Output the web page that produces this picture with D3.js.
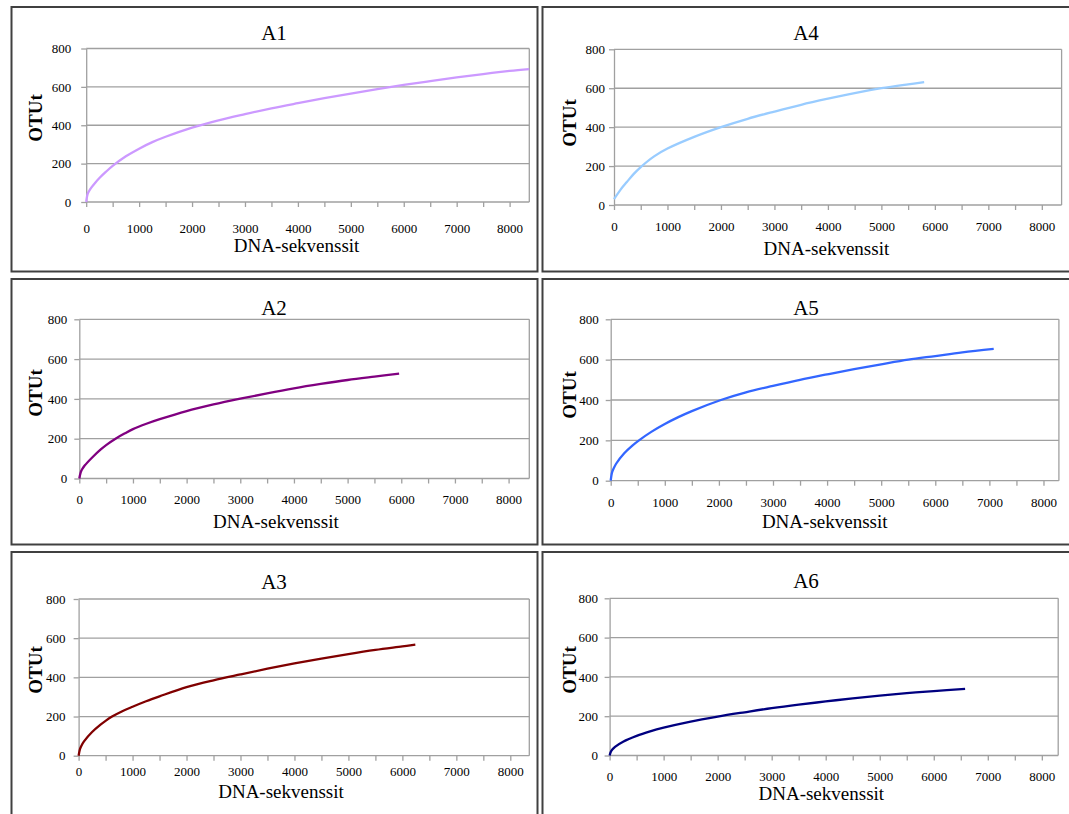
<!DOCTYPE html>
<html><head><meta charset="utf-8">
<script src="https://cdn.jsdelivr.net/npm/d3@7"></script>
<style>
body{margin:0;background:#fff;overflow:hidden}
svg text{font-family:"Liberation Serif","Times New Roman",Times,"DejaVu Serif",serif;}
</style>
</head><body>
<svg id="c" width="1069" height="814"></svg>
<script>
// ---- data ----
const xTickValues = [0,1000,2000,3000,4000,5000,6000,7000,8000];
const yTickValues = [0,200,400,600,800];
const titles = ["A1","A4","A2","A5","A3","A6"];
const xTitle = "DNA-sekvenssit";
const yTitle = "OTUt";

const a1X = [0,25,50,100,175,250,375,500,750,1000,1250,1500,2000,2500,3000,3500,4000,4500,5000,5500,6000,6500,7000,7500,8000,8370];
const a1Y = [0,40,55,76,102,125,158,188,238,278,312,340,388,426,458,488,515,541,565,588,610,630,649,667,683,693];
const a4X = [0,120,240,370,500,750,1000,1500,2000,2500,3000,3500,4000,4500,5000,5500,5800];
const a4Y = [30,78,118,160,195,250,290,350,400,443,480,515,546,575,600,620,631];
const a2X = [0,25,50,100,250,400,500,675,850,1000,1250,1500,2000,2500,3000,3500,4000,4500,5000,5500,5960];
const a2Y = [0,30,45,65,108,146,168,200,227,248,275,298,339,372,401,428,453,475,495,512,527];
const a5X = [0,25,50,100,250,400,523,750,1000,1250,1500,2037,2500,3000,3500,4000,4500,5000,5500,6000,6500,7080];
const a5Y = [0,41,58,84,136,174,200,242,281,315,345,400,438,470,500,527,553,577,600,618,636,653];
const a3X = [0,25,50,100,250,400,500,620,800,1000,1250,1500,2000,2500,3000,3500,4000,4500,5000,5500,6000,6240];
const a3Y = [0,34,50,73,121,157,178,200,226,250,278,303,350,385,415,444,471,496,519,540,558,567];
const a6X = [0,25,50,100,250,500,750,1000,1500,2000,2500,3000,3500,4000,4500,5000,5500,6000,6580];
const a6Y = [0,20,30,44,70,100,123,142,173,198,220,241,259,275,291,305,317,328,339];

const seriesX = [a1X,a4X,a2X,a5X,a3X,a6X];
const seriesY = [a1Y,a4Y,a2Y,a5Y,a3Y,a6Y];
const colors = ["#cc99ff","#99ccff","#800080","#3366ff","#800000","#000080"];

// ---- layout ----
const layout = [
  {box:[11.5,7,537.5,271.5], plot:[86.2,529.3,48.5,202], xMax:8372, title:[274,33], ylab:[35.5,118], xlab:[296.6,245], dTick:27, gY:15},
  {box:[542.5,7,1080,271.5], plot:[614,1061.6,49.3,205], xMax:8370, title:[806,33], ylab:[569,123], xlab:[826.4,248.3], dTick:22, gY:9},
  {box:[11.5,279,537.5,544.5], plot:[79.3,529.3,319.3,478.5], xMax:8386, title:[274,307.7], ylab:[35.5,393], xlab:[275.9,521.7], dTick:21.5, gY:12},
  {box:[542.5,279,1080,544.5], plot:[610.7,1058.9,319.3,480.7], xMax:8285, title:[806,307.7], ylab:[569,395], xlab:[824.7,521], dTick:22, gY:12},
  {box:[11.5,552,537.5,830], plot:[78.6,529.3,599,755.7], xMax:8352, title:[274,581.7], ylab:[35.5,670], xlab:[281,791], dTick:16.5, gY:13},
  {box:[542.5,552,1080,830], plot:[609.6,1058.2,598.3,755.5], xMax:8303, title:[806,581], ylab:[569,670], xlab:[821.3,793.3], dTick:21.5, gY:11.6}
];

const svg = d3.select("#c");
const gridCol = "#a0a0a0";
const tickFont = 13;

layout.forEach((L,i)=>{
  const g = svg.append("g");
  const [bx0,by0,bx1,by1] = L.box;
  g.append("rect").attr("x",bx0).attr("y",by0).attr("width",bx1-bx0).attr("height",by1-by0)
    .attr("fill","#fff").attr("stroke","#404040").attr("stroke-width",2);

  const [pl,pr,pt,pb] = L.plot;
  const x = d3.scaleLinear().domain([0,L.xMax]).range([pl,pr]);
  const y = d3.scaleLinear().domain([0,800]).range([pb,pt]);

  g.selectAll("line.grid").data(yTickValues.filter(v=>v>0)).enter().append("line")
    .attr("x1",pl).attr("x2",pr).attr("y1",d=>y(d)).attr("y2",d=>y(d))
    .attr("stroke",gridCol).attr("stroke-width",1.3);
  g.append("line").attr("x1",pr).attr("x2",pr).attr("y1",pt).attr("y2",pb)
    .attr("stroke",gridCol).attr("stroke-width",1.3);

  const xTicksAll = d3.range(0,8001,500);
  const xa = d3.axisBottom(x).tickValues(xTicksAll).tickSize(5).tickSizeOuter(0)
    .tickPadding(L.dTick-5-0.38*tickFont)
    .tickFormat(d=> xTickValues.includes(d) ? String(d) : "");
  const gx = g.append("g").attr("transform",`translate(0,${pb})`).call(xa);
  gx.attr("font-family",null).attr("font-size",null);
  gx.select(".domain").attr("stroke",gridCol).attr("stroke-width",1.3).attr("d",`M${pl},0H${pr}`);
  gx.selectAll(".tick line").attr("stroke",gridCol).attr("stroke-width",1.3);
  gx.selectAll(".tick text").style("font-size",tickFont+"px").attr("fill","#000");

  const ya = d3.axisLeft(y).tickValues(yTickValues).tickSize(5).tickSizeOuter(0)
    .tickPadding(L.gY-5).tickFormat(d=>String(d));
  const gy = g.append("g").attr("transform",`translate(${pl},0)`).call(ya);
  gy.attr("font-family",null).attr("font-size",null);
  gy.select(".domain").attr("stroke",gridCol).attr("stroke-width",1.3);
  gy.selectAll(".tick line").attr("stroke",gridCol).attr("stroke-width",1.3);
  gy.selectAll(".tick text").style("font-size",tickFont+"px").attr("fill","#000");

  const pts = seriesX[i].map((v,k)=>[v,seriesY[i][k]]);
  const line = d3.line().x(d=>x(d[0])).y(d=>y(d[1])).curve(d3.curveCatmullRom.alpha(0.5));
  g.append("path").datum(pts).attr("d",line).attr("fill","none")
    .attr("stroke",colors[i]).attr("stroke-width",2.3).attr("stroke-linejoin","round");

  g.append("text").attr("x",L.title[0]).attr("y",L.title[1]).attr("dy","0.35em")
    .attr("text-anchor","middle").style("font-size","21px").text(titles[i]);
  g.append("text").attr("transform",`translate(${L.ylab[0]},${L.ylab[1]}) rotate(-90)`).attr("dy","0.35em")
    .attr("text-anchor","middle").style("font-size","19px").style("font-weight","bold").text(yTitle);
  g.append("text").attr("x",L.xlab[0]).attr("y",L.xlab[1]).attr("dy","0.35em")
    .attr("text-anchor","middle").style("font-size","19px").text(xTitle);
});
</script>
</body></html>
